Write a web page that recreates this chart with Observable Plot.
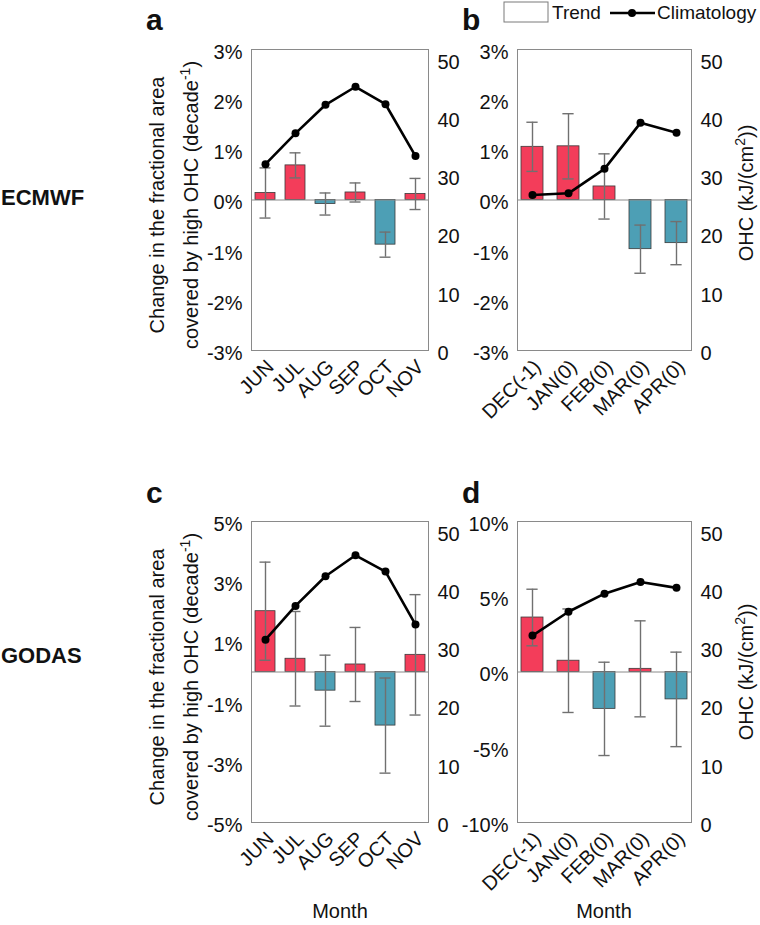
<!DOCTYPE html>
<html><head><meta charset="utf-8">
<script src="https://cdn.jsdelivr.net/npm/d3@7"></script>
<script src="https://cdn.jsdelivr.net/npm/@observablehq/plot@0.6"></script>
<style>
body{margin:0;background:#fff;}
#root{position:relative;width:760px;height:925px;overflow:hidden;background:#fff;}
#root svg{position:absolute;overflow:visible;}
</style></head><body><div id="root"></div>
<script>
// ---------- data ----------
const monthsJJASON = ["JUN","JUL","AUG","SEP","OCT","NOV"];
const monthsDJFMA = ["DEC(-1)","JAN(0)","FEB(0)","MAR(0)","APR(0)"];

const ecmwfTrendJJASON = [0.14, 0.69, -0.08, 0.15, -0.89, 0.12];
const ecmwfErrJJASON   = [0.50, 0.25, 0.22, 0.19, 0.25, 0.31];
const ecmwfClimJJASON  = [32.0, 37.3, 42.2, 45.3, 42.3, 33.4];

const ecmwfTrendDJFMA = [1.06, 1.07, 0.27, -0.98, -0.86];
const ecmwfErrDJFMA   = [0.49, 0.65, 0.65, 0.48, 0.43];
const ecmwfClimDJFMA  = [26.7, 27.0, 31.2, 39.1, 37.4];

const godasTrendJJASON = [2.02, 0.44, -0.62, 0.25, -1.78, 0.57];
const godasErrJJASON   = [1.63, 1.57, 1.18, 1.23, 1.58, 2.00];
const godasClimJJASON  = [31.4, 37.2, 42.3, 45.9, 43.1, 34.0];

const godasTrendDJFMA = [3.62, 0.75, -2.45, 0.21, -1.82];
const godasErrDJFMA   = [1.88, 3.44, 3.10, 3.19, 3.14];
const godasClimDJFMA  = [32.1, 36.2, 39.3, 41.3, 40.3];

const ticksPct3  = [-3, -2, -1, 0, 1, 2, 3];
const ticksPct5  = [-5, -3, -1, 1, 3, 5];
const ticksPct10 = [-10, -5, 0, 5, 10];
const ticksOHC   = [0, 10, 20, 30, 40, 50];

// ---------- style ----------
const FONT = '"Liberation Sans",Arial,Helvetica,sans-serif';
const RED = "#f33d5a", BLUE = "#4d9fb5";
const ML = 50, MR = 50, MT = 10, MB = 80;

const panels = [
  {months: monthsJJASON, trend: ecmwfTrendJJASON, err: ecmwfErrJJASON, clim: ecmwfClimJJASON, yDomain: [-3,3], yTicks: ticksPct3, fx: 251, fy: 49, fw: 177, fh: 301, pi: 0.35, po: 0.05},
  {months: monthsDJFMA, trend: ecmwfTrendDJFMA, err: ecmwfErrDJFMA, clim: ecmwfClimDJFMA, yDomain: [-3,3], yTicks: ticksPct3, fx: 517, fy: 49, fw: 174, fh: 301, pi: 0.4, po: 0.1},
  {months: monthsJJASON, trend: godasTrendJJASON, err: godasErrJJASON, clim: godasClimJJASON, yDomain: [-5,5], yTicks: ticksPct5, fx: 251, fy: 521, fw: 177, fh: 301, pi: 0.35, po: 0.05},
  {months: monthsDJFMA, trend: godasTrendDJFMA, err: godasErrDJFMA, clim: godasClimDJFMA, yDomain: [-10,10], yTicks: ticksPct10, fx: 517, fy: 521, fw: 174, fh: 301, pi: 0.4, po: 0.1}
];

const root = document.getElementById("root");

function place(svg, left, top) {
  svg.style.left = left + "px";
  svg.style.top = top + "px";
  root.appendChild(svg);
}

for (const p of panels) {
  const data = p.months.map((m, i) => ({m, v: p.trend[i], e: p.err[i], c: p.clim[i]}));
  const W = p.fw + ML + MR, H = p.fh + MT + MB;
  const n = p.months.length;
  const step = p.fw / (n - p.pi + 2 * p.po);
  const capInset = (step * (1 - p.pi) - 11) / 2;
  const xOpts = {type: "band", domain: p.months, paddingInner: p.pi, paddingOuter: p.po, align: 0.5};
  const common = {width: W, height: H, marginLeft: ML, marginRight: MR, marginTop: MT, marginBottom: MB,
    style: {fontFamily: FONT, fontSize: "20px", color: "#111", background: "transparent", overflow: "visible"}};

  const bars = Plot.plot({
    ...common,
    x: {...xOpts},
    y: {domain: p.yDomain},
    color: {type: "identity"},
    marks: [
      Plot.barY(data, {x: "m", y: "v", fill: d => d.v >= 0 ? RED : BLUE, stroke: "#3a3a3a", strokeWidth: 0.8}),
      Plot.ruleY([0], {stroke: "#8a8a8a", strokeWidth: 1}),
      Plot.ruleX(data, {x: "m", y1: d => d.v - d.e, y2: d => d.v + d.e, stroke: "#707070", strokeWidth: 1.4}),
      Plot.tickY(data, {x: "m", y: d => d.v - d.e, stroke: "#707070", strokeWidth: 1.4, insetLeft: capInset, insetRight: capInset}),
      Plot.tickY(data, {x: "m", y: d => d.v + d.e, stroke: "#707070", strokeWidth: 1.4, insetLeft: capInset, insetRight: capInset}),
      Plot.frame({stroke: "#8a8a8a", strokeWidth: 1}),
      Plot.axisY({ticks: p.yTicks, tickSize: 0, tickPadding: 9, tickFormat: d => d + "%", label: null, dy: 3}),
      Plot.axisX({tickRotate: -45, tickSize: 0, tickPadding: 13, label: null, fontSize: 20, dx: 5})
    ]
  });
  place(bars, p.fx - ML, p.fy - MT);

  const line = Plot.plot({
    ...common,
    x: {...xOpts, axis: null},
    y: {domain: [0, 51.7]},
    marks: [
      Plot.line(data, {x: "m", y: "c", stroke: "#000", strokeWidth: 2.6}),
      Plot.dot(data, {x: "m", y: "c", r: 4, fill: "#000"}),
      Plot.axisY({anchor: "right", ticks: ticksOHC, tickSize: 0, tickPadding: 9, label: null, dy: 3})
    ]
  });
  place(line, p.fx - ML, p.fy - MT);
}

// ---------- annotations ----------
const ann = d3.select(root).append("svg")
  .attr("width", 760).attr("height", 925)
  .style("left", "0px").style("top", "0px")
  .style("font-family", FONT).style("fill", "#111");

// row labels
ann.append("text").attr("x", 1).attr("y", 205).text("ECMWF")
  .style("font-weight", "bold").style("font-size", "22px");
ann.append("text").attr("x", 1).attr("y", 663).text("GODAS")
  .style("font-weight", "bold").style("font-size", "22px");

// panel letters
const letters = [["a", 146, 30], ["b", 462, 30], ["c", 146, 503], ["d", 462, 503]];
for (const [t, x, y] of letters) {
  ann.append("text").attr("x", x).attr("y", y).text(t)
    .style("font-weight", "bold").style("font-size", "30px");
}

// legend
ann.append("rect").attr("x", 504).attr("y", 2).attr("width", 44).attr("height", 20)
  .attr("fill", "#fff").attr("stroke", "#7a7a7a").attr("stroke-width", 1);
ann.append("text").attr("x", 552).attr("y", 19).text("Trend").style("font-size", "19px");
ann.append("line").attr("x1", 610).attr("x2", 655).attr("y1", 13).attr("y2", 13).attr("stroke", "#000").attr("stroke-width", 2.6);
ann.append("circle").attr("cx", 632).attr("cy", 13).attr("r", 4).attr("fill", "#000");
ann.append("text").attr("x", 657).attr("y", 19).text("Climatology").style("font-size", "19px");

// left axis titles (panels a and c)
function leftTitle(cy) {
  const g = ann.append("g");
  g.append("text").attr("transform", `translate(164,${cy}) rotate(-90)`).attr("text-anchor", "middle")
    .style("font-size", "20px").text("Change in the fractional area");
  const t2 = g.append("text").attr("transform", `translate(198,${cy}) rotate(-90)`).attr("text-anchor", "middle")
    .style("font-size", "20px");
  t2.append("tspan").text("covered by high OHC (decade");
  t2.append("tspan").attr("dy", -8).style("font-size", "14px").text("-1");
  t2.append("tspan").attr("dy", 8).text(")");
}
leftTitle(205);
leftTitle(677);

// right axis titles (panels b and d)
function rightTitle(cy) {
  const t = ann.append("text").attr("transform", `translate(753,${cy}) rotate(-90)`).attr("text-anchor", "middle")
    .style("font-size", "20px");
  t.append("tspan").text("OHC (kJ/(cm");
  t.append("tspan").attr("dy", -8).style("font-size", "14px").text("2");
  t.append("tspan").attr("dy", 8).text("))");
}
rightTitle(193);
rightTitle(672);

// x axis titles
ann.append("text").attr("x", 340).attr("y", 918).attr("text-anchor", "middle").style("font-size", "20px").text("Month");
ann.append("text").attr("x", 604).attr("y", 918).attr("text-anchor", "middle").style("font-size", "20px").text("Month");
</script></body></html>
